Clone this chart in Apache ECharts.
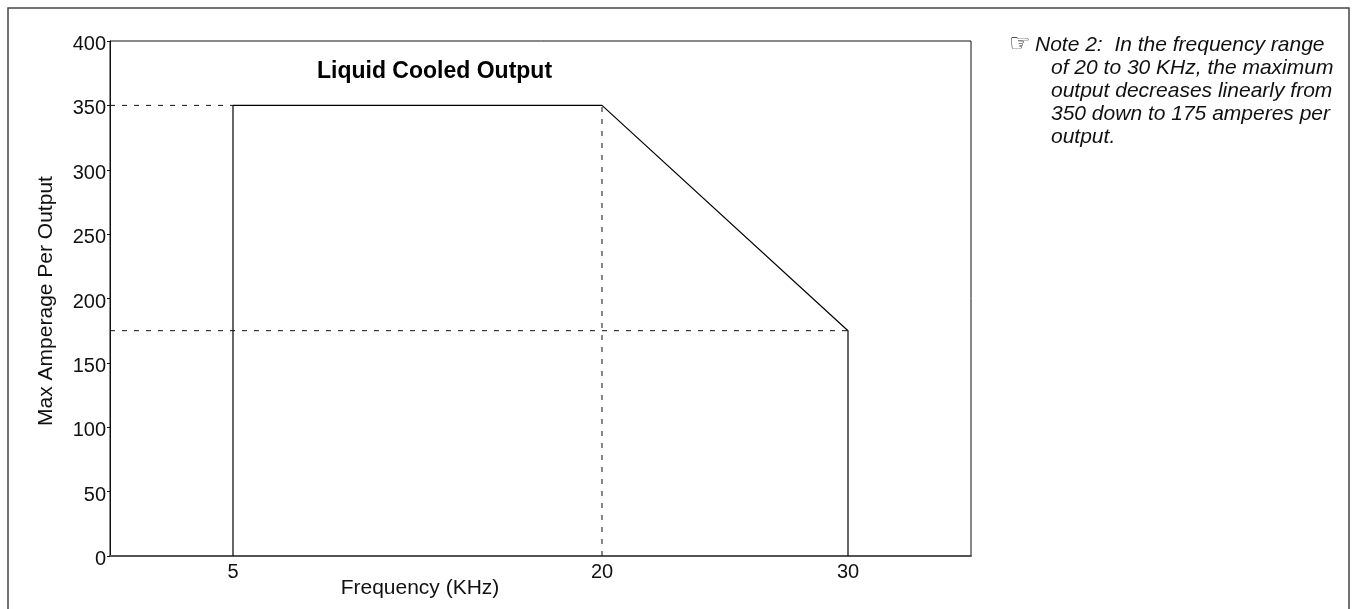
<!DOCTYPE html>
<html>
<head>
<meta charset="utf-8">
<script src="https://cdn.jsdelivr.net/npm/echarts@6/dist/echarts.min.js"></script>
<style>
html,body{margin:0;padding:0;background:#fff;}
#chart{width:1353px;height:609px;}
</style>
</head>
<body>
<div id="chart"></div>
<script>
// ---- data ----
const titleText = 'Liquid Cooled Output';
const xAxisName = 'Frequency (KHz)';
const yAxisName = 'Max Amperage Per Output';
const xTicks = [5, 20, 30];
const yTicks = [0, 50, 100, 150, 200, 250, 300, 350, 400];
// output curve (frequency KHz, amperes)
const curveX = [5, 5, 20, 30, 30];
const curveY = [0, 350, 350, 175, 0];
// dashed reference lines
const ref350X = [0, 5];
const ref350Y = [350, 350];
const ref20X = [20, 20];
const ref20Y = [0, 350];
const ref175X = [0, 30];
const ref175Y = [175, 175];
const noteLines = [
  'Note 2:  In the frequency range',
  'of 20 to 30 KHz, the maximum',
  'output decreases linearly from',
  '350 down to 175 amperes per',
  'output.'
];

const zip = (xs, ys) => xs.map((x, i) => [x, ys[i]]);
const font = "'Liberation Sans', Arial, Helvetica, sans-serif";

const chart = echarts.init(document.getElementById('chart'), null, {renderer: 'canvas'});

const dashed = {color: '#111', width: 1, type: [5, 7]};

const graphics = [
  {type: 'rect', shape: {x: 8, y: 8, width: 1341, height: 700},
   style: {fill: 'none', stroke: '#444', lineWidth: 1.5}, silent: true, z: 0},
  {type: 'text', x: 1009, y: 45,
   style: {text: '\u261E', font: "24px 'DejaVu Sans'", fill: '#111', verticalAlign: 'middle'}},
  {type: 'text', x: 420, y: 588,
   style: {text: xAxisName, font: '21px ' + font, fill: '#111', align: 'center', verticalAlign: 'middle'}},
  {type: 'text', x: 46, y: 301, rotation: Math.PI / 2,
   style: {text: yAxisName, font: '21px ' + font, fill: '#111', align: 'center', verticalAlign: 'middle'}}
];
noteLines.forEach((t, i) => {
  graphics.push({type: 'text', x: i === 0 ? 1035 : 1051, y: 45 + i * 23,
    style: {text: t, font: 'italic 21px ' + font, fill: '#111', verticalAlign: 'middle'}});
});

chart.setOption({
  animation: false,
  backgroundColor: '#fff',
  title: {
    text: titleText, left: 312, top: 55,
    textStyle: {fontFamily: font, fontSize: 23, fontWeight: 'bold', color: '#000'}
  },
  grid: {left: 110, top: 41, right: 382, bottom: 53, show: true, borderColor: '#111', borderWidth: 1, backgroundColor: 'transparent'},
  xAxis: {
    type: 'value', min: 0, max: 35,
    axisLine: {lineStyle: {color: '#555', width: 2}},
    axisTick: {show: false},
    splitLine: {show: false},
    axisLabel: {customValues: xTicks, fontFamily: font, fontSize: 20, color: '#111', margin: 6}
  },
  yAxis: {
    type: 'value', min: 0, max: 400, interval: 50,
    axisLine: {show: true, lineStyle: {color: '#111', width: 1}},
    axisTick: {show: true, length: 3, lineStyle: {color: '#111'}},
    splitLine: {show: false},
    axisLabel: {fontFamily: font, fontSize: 20, color: '#111', margin: 4,
      verticalAlign: 'top', lineHeight: 7, customValues: yTicks}
  },
  graphic: graphics,
  series: [
    {type: 'line', data: zip(curveX, curveY), symbol: 'none', lineStyle: {color: '#000', width: 1.2}, z: 3},
    {type: 'line', data: zip(ref350X, ref350Y), symbol: 'none', lineStyle: dashed},
    {type: 'line', data: zip(ref20X, ref20Y), symbol: 'none', lineStyle: dashed},
    {type: 'line', data: zip(ref175X, ref175Y), symbol: 'none', lineStyle: dashed}
  ]
});
</script>
</body>
</html>
